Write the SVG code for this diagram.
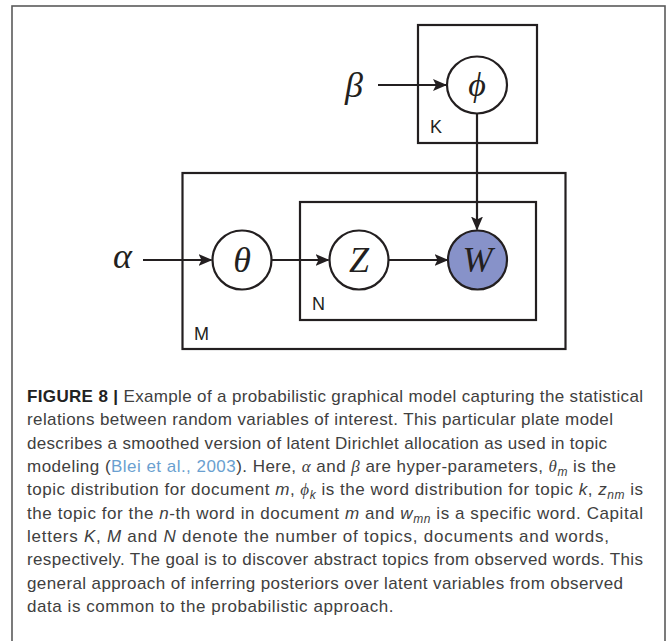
<svg xmlns="http://www.w3.org/2000/svg" width="670" height="641" viewBox="0 0 670 641">
<style>
.frame{fill:#fff;stroke:#5a5a5a;stroke-width:1.6}
.plate{fill:none;stroke:#231f20;stroke-width:2.2}
.node{fill:#fff;stroke:#231f20;stroke-width:2.2}
.obs{fill:#8792c9;stroke:#231f20;stroke-width:2.2}
.edge{fill:none;stroke:#231f20;stroke-width:2.2}
.math{font-family:"Liberation Serif","DejaVu Serif",serif;font-style:italic;fill:#231f20}
.plab{font-family:"Liberation Sans",Arial,sans-serif;font-size:18px;fill:#231f20}
.cap{font-family:"Liberation Sans",Arial,sans-serif;font-size:17px;fill:#404040}
.b{font-weight:bold;fill:#222}
.i{font-style:italic}
.m{font-family:"Liberation Serif","DejaVu Serif",serif;font-style:italic}
.sub{font-size:12px;font-style:italic}
.link{fill:#6a9fd0}
</style>
<defs>
<marker id="arr" viewBox="0 0 14 12" refX="13" refY="6" markerWidth="14" markerHeight="12" markerUnits="userSpaceOnUse" orient="auto">
<path d="M0,0 L14,6 L0,12 L3,6 z" fill="#231f20"/>
</marker>
</defs>
<rect class="frame" x="12" y="6" width="653" height="660"/>

<g id="plate-K"><rect class="plate" x="418" y="25" width="119" height="118"/><text class="plab" x="430" y="133">K</text></g>
<g id="plate-M"><rect class="plate" x="182.5" y="173" width="383" height="176"/><text class="plab" x="194" y="340">M</text></g>
<g id="plate-N"><rect class="plate" x="300" y="202" width="236" height="118"/><text class="plab" x="312" y="310">N</text></g>

<g id="connectors">
<line class="edge" x1="378" y1="85" x2="446" y2="85" marker-end="url(#arr)"/>
<line class="edge" x1="477" y1="113" x2="477" y2="229.5" marker-end="url(#arr)"/>
<line class="edge" x1="143" y1="260" x2="211.5" y2="260" marker-end="url(#arr)"/>
<line class="edge" x1="272" y1="260" x2="328.5" y2="260" marker-end="url(#arr)"/>
<line class="edge" x1="389" y1="260" x2="447.5" y2="260" marker-end="url(#arr)"/>
</g>

<g id="node-beta"><text class="math" x="345" y="97" font-size="36">β</text></g>
<g id="node-phi"><ellipse class="node" cx="477" cy="85" rx="30" ry="28.5"/><text class="math" x="477" y="96" font-size="34" text-anchor="middle">ϕ</text></g>
<g id="node-alpha"><text class="math" x="113" y="268" font-size="36">α</text></g>
<g id="node-theta"><circle class="node" cx="242" cy="260" r="29.5"/><text class="math" x="242" y="272" font-size="36" text-anchor="middle">θ</text></g>
<g id="node-Z"><circle class="node" cx="359" cy="260" r="29.5"/><text class="math" x="359" y="272" font-size="36" text-anchor="middle">Z</text></g>
<g id="node-W"><circle class="obs" cx="477.5" cy="260" r="29.5"/><text class="math" x="477.5" y="272" font-size="36" text-anchor="middle">W</text></g>

<g id="caption" class="cap">
<text x="27" y="402" textLength="616" lengthAdjust="spacing"><tspan class="b">FIGURE 8 | </tspan>Example of a probabilistic graphical model capturing the statistical</text>
<text x="27" y="425.3" textLength="586" lengthAdjust="spacing">relations between random variables of interest. This particular plate model</text>
<text x="27" y="448.6" textLength="580" lengthAdjust="spacing">describes a smoothed version of latent Dirichlet allocation as used in topic</text>
<text x="27" y="472" textLength="589" lengthAdjust="spacing">modeling (<tspan class="link">Blei et al., 2003</tspan>). Here, <tspan class="m">α</tspan> and <tspan class="m">β</tspan> are hyper-parameters, <tspan class="m">θ</tspan><tspan class="sub" dy="4">m</tspan><tspan dy="-4"> is the</tspan></text>
<text x="27" y="495.3" textLength="616" lengthAdjust="spacing">topic distribution for document <tspan class="i">m</tspan>, <tspan class="m">ϕ</tspan><tspan class="sub" dy="4">k</tspan><tspan dy="-4"> is the word distribution for topic </tspan><tspan class="i">k</tspan>, <tspan class="i">z</tspan><tspan class="sub" dy="4">nm</tspan><tspan dy="-4"> is</tspan></text>
<text x="27" y="518.6" textLength="616" lengthAdjust="spacing">the topic for the <tspan class="i">n</tspan>-th word in document <tspan class="i">m</tspan> and <tspan class="i">w</tspan><tspan class="sub" dy="4">mn</tspan><tspan dy="-4"> is a specific word. Capital</tspan></text>
<text x="27" y="542" textLength="582" lengthAdjust="spacing">letters <tspan class="i">K</tspan>, <tspan class="i">M</tspan> and <tspan class="i">N</tspan> denote the number of topics, documents and words,</text>
<text x="27" y="565.3" textLength="616" lengthAdjust="spacing">respectively. The goal is to discover abstract topics from observed words. This</text>
<text x="27" y="588.6" textLength="596" lengthAdjust="spacing">general approach of inferring posteriors over latent variables from observed</text>
<text x="27" y="612" textLength="366.5" lengthAdjust="spacing">data is common to the probabilistic approach.</text>
</g>
</svg>
